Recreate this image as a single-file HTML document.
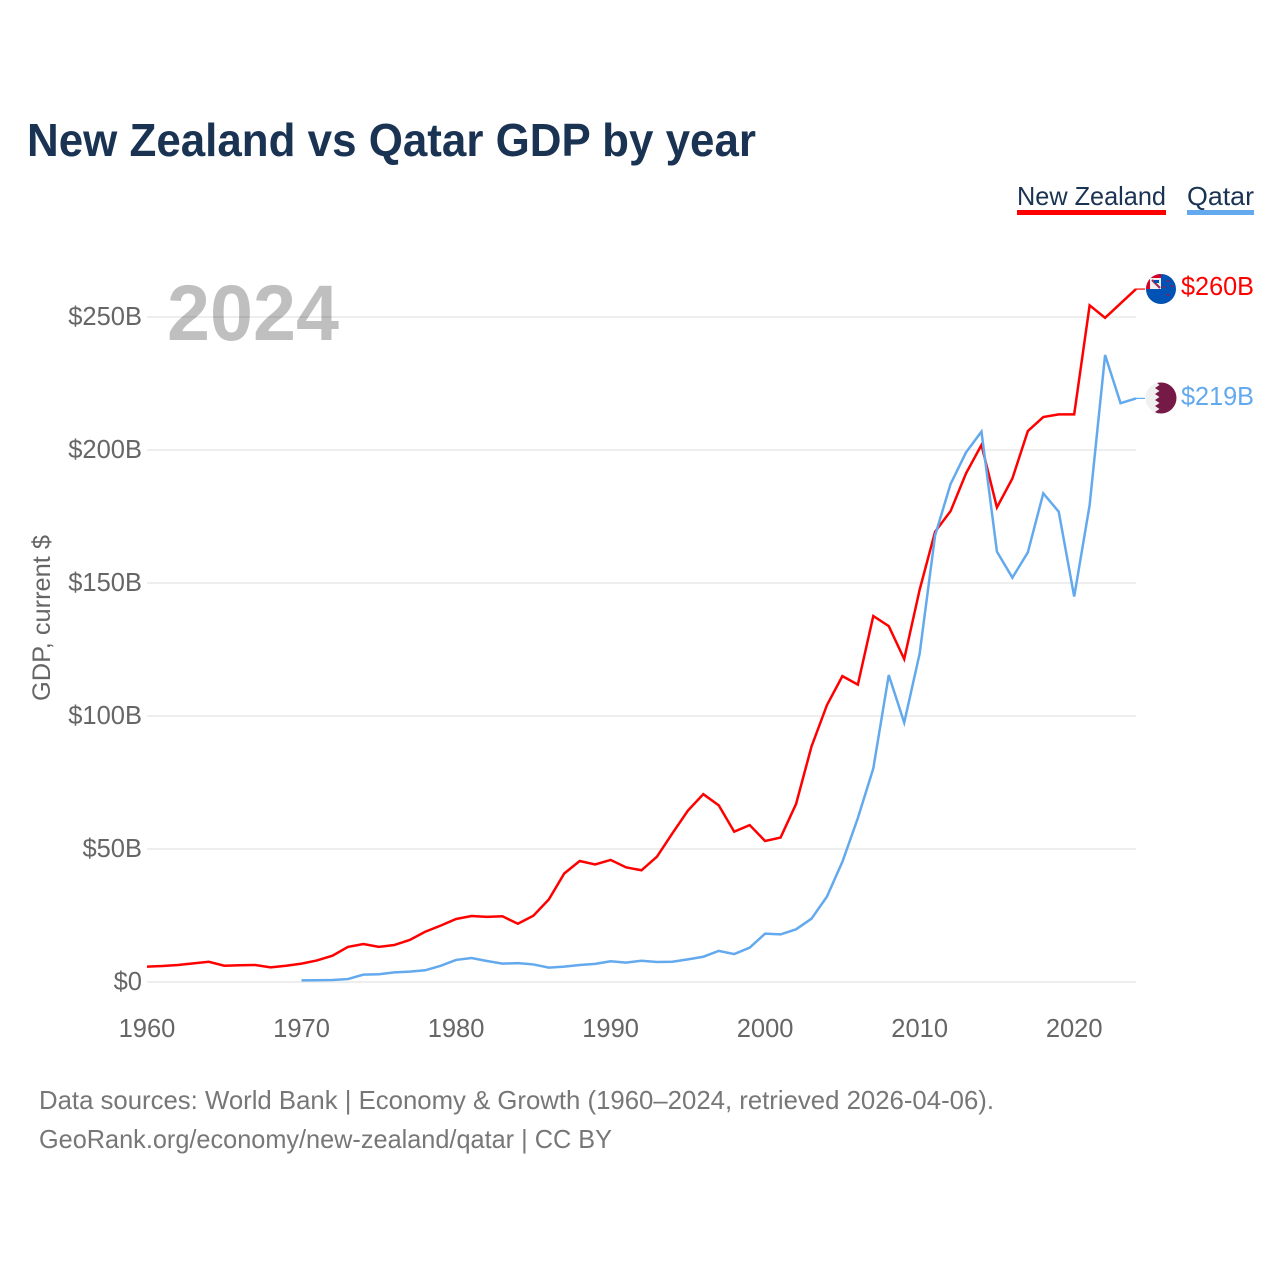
<!DOCTYPE html>
<html lang="en">
<head>
<meta charset="utf-8">
<title>New Zealand vs Qatar GDP by year</title>
<style>
html,body{margin:0;padding:0;background:#fff;width:1280px;height:1280px;overflow:hidden}
svg{display:block}
text{font-family:"Liberation Sans",sans-serif}
</style>
</head>
<body>
<svg id="chart" width="1280" height="1280" viewBox="0 0 1280 1280" xmlns="http://www.w3.org/2000/svg">
  <rect width="1280" height="1280" fill="#ffffff"/>
  <text x="27" y="156" font-size="46" font-weight="700" fill="#1a3353" textLength="729" lengthAdjust="spacingAndGlyphs">New Zealand vs Qatar GDP by year</text>
  <g id="grid"></g>
  <g id="yticks"></g>
  <g id="xticks"></g>
  <text x="167" y="340" font-size="79" font-weight="700" fill="#000000" fill-opacity="0.25" textLength="172" lengthAdjust="spacingAndGlyphs">2024</text>
  <text transform="translate(50,701) rotate(-90)" font-size="25" fill="#666666" textLength="166" lengthAdjust="spacingAndGlyphs">GDP, current $</text>
  <g id="series"></g>

  <g>
    <text x="1017" y="205" font-size="26" fill="#1a3353" textLength="149" lengthAdjust="spacingAndGlyphs">New Zealand</text>
    <rect x="1017" y="210" width="149" height="5" fill="#ff0000"/>
  </g>
  <g>
    <text x="1187" y="205" font-size="26" fill="#1a3353" textLength="67" lengthAdjust="spacingAndGlyphs">Qatar</text>
    <rect x="1187" y="210" width="67" height="5" fill="#63a9ee"/>
  </g>

  <defs>
    <clipPath id="flagClipNz"><circle cx="1161" cy="289" r="15"/></clipPath>
    <clipPath id="flagClipQa"><circle cx="1161" cy="398" r="15.500"/></clipPath>
  </defs>
  <g clip-path="url(#flagClipNz)">
    <rect x="1146" y="274" width="30" height="30" fill="#0052b4"/>
    <rect x="1146" y="274" width="15" height="15" fill="#d80027"/>
    <rect x="1150" y="278" width="11" height="11" fill="#f0f0f0"/>
    <path d="M1152 280 L1160 288" stroke="#a2284c" stroke-width="2" fill="none"/>
    <rect x="1154" y="280" width="5" height="3" fill="#0052b4"/>
    <circle cx="1168" cy="281" r="1" fill="#d80027"/>
    <circle cx="1164" cy="287" r="1" fill="#d80027"/>
    <circle cx="1172" cy="286" r="1" fill="#d80027"/>
    <circle cx="1168" cy="295" r="1" fill="#d80027"/>
  </g>
  <g clip-path="url(#flagClipQa)">
    <rect x="1145" y="382" width="32" height="32" fill="#f0f0f0"/>
    <path d="M1177 382 H1156 L1159.500 385 L1155 388 L1159.500 391 L1155 394 L1159.500 397 L1155 400 L1159.500 403 L1155 406 L1159.500 409 L1155 412 L1158 414 H1177 Z" fill="#751a46"/>
  </g>

  <text x="1181" y="295" font-size="26" fill="#ff0000" textLength="73" lengthAdjust="spacingAndGlyphs">$260B</text>
  <text x="1181" y="405" font-size="26" fill="#63a9ee" textLength="73" lengthAdjust="spacingAndGlyphs">$219B</text>

  <text x="39" y="1109" font-size="26" fill="#777777" textLength="955" lengthAdjust="spacingAndGlyphs">Data sources: World Bank | Economy &amp; Growth (1960–2024, retrieved 2026-04-06).</text>
  <text x="39" y="1148" font-size="26" fill="#777777" textLength="573" lengthAdjust="spacingAndGlyphs">GeoRank.org/economy/new-zealand/qatar | CC BY</text>
</svg>

<script>
const years = [1960,1961,1962,1963,1964,1965,1966,1967,1968,1969,1970,1971,1972,1973,1974,1975,1976,1977,1978,1979,1980,1981,1982,1983,1984,1985,1986,1987,1988,1989,1990,1991,1992,1993,1994,1995,1996,1997,1998,1999,2000,2001,2002,2003,2004,2005,2006,2007,2008,2009,2010,2011,2012,2013,2014,2015,2016,2017,2018,2019,2020,2021,2022,2023,2024];
const newZealand = [5.8,6,6.4,7,7.6,6.1,6.3,6.4,5.5,6.1,6.9,8.1,9.9,13.2,14.3,13.2,13.9,15.8,18.9,21.2,23.7,24.8,24.5,24.7,21.9,24.9,31,40.8,45.5,44.2,45.9,43.1,42,47.1,55.9,64.4,70.6,66.4,56.5,59,53,54.3,66.9,88.5,104.1,115,111.8,137.6,133.8,121.4,147.5,169.3,177,191.2,201.9,178.4,189.3,207.1,212.4,213.4,213.4,254.4,249.7,255.1,260.5];
const qatar = [null,null,null,null,null,null,null,null,null,null,0.6,0.65,0.75,1.1,2.75,2.9,3.6,3.9,4.4,6.1,8.3,9,7.9,6.9,7.1,6.6,5.4,5.8,6.4,6.8,7.8,7.3,8,7.5,7.6,8.5,9.5,11.7,10.5,12.9,18.2,17.9,19.8,23.8,32.1,45.2,61.6,80.3,115.4,97.5,123.5,167.9,187.2,199.1,206.9,161.8,152,161.5,183.7,176.8,144.9,179.3,235.7,217.6,219.4];
const yTickValues = [0,50,100,150,200,250];
const yTickLabels = ["$0","$50B","$100B","$150B","$200B","$250B"];
const xTickValues = [1960,1970,1980,1990,2000,2010,2020];

const SVGNS = "http://www.w3.org/2000/svg";
const xScale = function (year) { return 147 + (year - 1960) * (1136 - 147) / 64; };
const yScale = function (value) { return 982 - value * (982 - 317) / 250; };

const gridGroup = document.getElementById("grid");
const yTickGroup = document.getElementById("yticks");
const xTickGroup = document.getElementById("xticks");
const seriesGroup = document.getElementById("series");

yTickValues.forEach(function (value, i) {
  const line = document.createElementNS(SVGNS, "line");
  
  
  line.setAttribute("x1", 147);
  line.setAttribute("x2", 1136);
  line.setAttribute("y1", yScale(value));
  line.setAttribute("y2", yScale(value));
  line.setAttribute("stroke", "#eeeeee");
  line.setAttribute("stroke-width", 2);
  gridGroup.appendChild(line);

  const label = document.createElementNS(SVGNS, "text");
  
  
  label.setAttribute("x", 142);
  label.setAttribute("y", yScale(value) + 8);
  label.setAttribute("text-anchor", "end");
  label.setAttribute("font-size", 25.5);
  label.setAttribute("fill", "#666666");
  label.textContent = yTickLabels[i];
  yTickGroup.appendChild(label);
});

xTickValues.forEach(function (year) {
  const label = document.createElementNS(SVGNS, "text");
  
  
  label.setAttribute("x", xScale(year));
  label.setAttribute("y", 1037);
  label.setAttribute("text-anchor", "middle");
  label.setAttribute("font-size", 25.5);
  label.setAttribute("fill", "#666666");
  label.textContent = String(year);
  xTickGroup.appendChild(label);
});

function pathFor(values) {
  let d = "";
  values.forEach(function (value, i) {
    if (value === null) { return; }
    d += (d === "" ? "M" : "L") + xScale(years[i]).toFixed(2) + " " + yScale(value).toFixed(2) + " ";
  });
  return d;
}

function lastValue(values) {
  return values[values.length - 1];
}

function drawSeries(values, color, lineName, connectorName) {
  const connector = document.createElementNS(SVGNS, "line");
  
  
  connector.setAttribute("x1", xScale(years[years.length - 1]));
  connector.setAttribute("x2", 1145);
  connector.setAttribute("y1", yScale(lastValue(values)));
  connector.setAttribute("y2", yScale(lastValue(values)));
  connector.setAttribute("stroke", color);
  connector.setAttribute("stroke-width", 1.2);
  seriesGroup.appendChild(connector);

  const path = document.createElementNS(SVGNS, "path");
  
  
  path.setAttribute("d", pathFor(values));
  path.setAttribute("fill", "none");
  path.setAttribute("stroke", color);
  path.setAttribute("stroke-width", 2.5);
  path.setAttribute("stroke-linejoin", "miter");
  seriesGroup.appendChild(path);
}

drawSeries(newZealand, "#ff0000", "line-new-zealand", "connector-new-zealand");
drawSeries(qatar, "#63a9ee", "line-qatar", "connector-qatar");
</script>
</body>
</html>
